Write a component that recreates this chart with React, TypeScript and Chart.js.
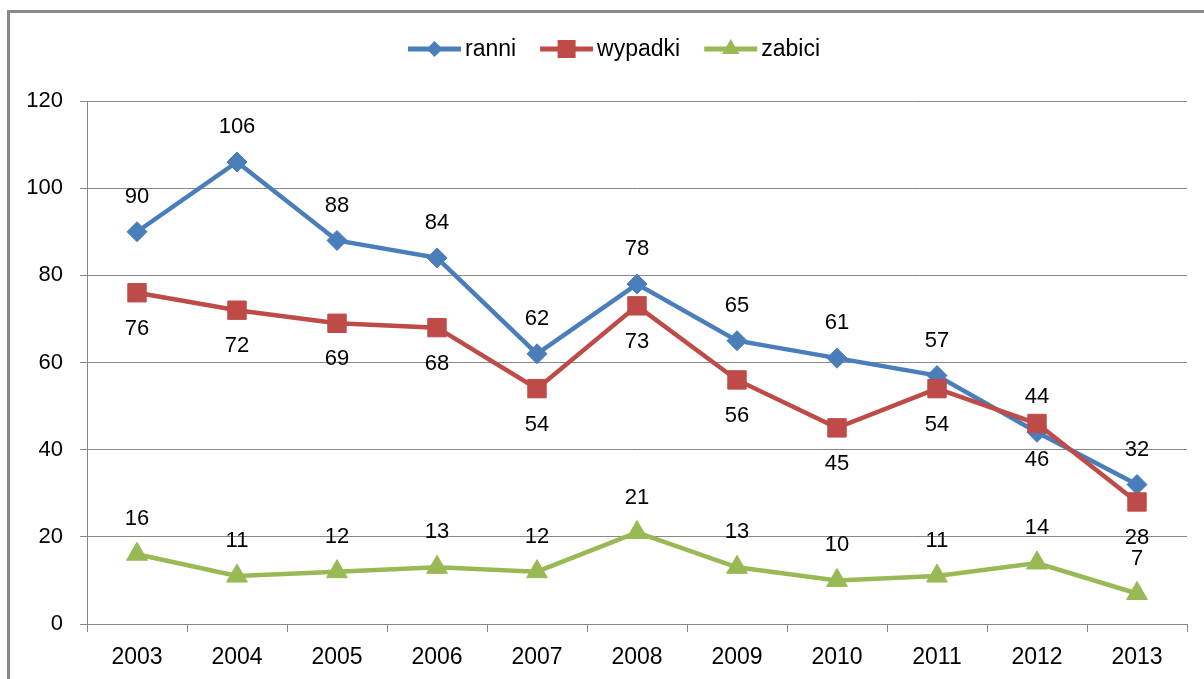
import React, { useEffect, useRef } from "react";
import { Chart, registerables } from "chart.js";

Chart.register(...registerables);

const years = ["2003", "2004", "2005", "2006", "2007", "2008", "2009", "2010", "2011", "2012", "2013"];
const ranni = [90, 106, 88, 84, 62, 78, 65, 61, 57, 44, 32];
const wypadki = [76, 72, 69, 68, 54, 73, 56, 45, 54, 46, 28];
const zabici = [16, 11, 12, 13, 12, 21, 13, 10, 11, 14, 7];
const seriesNames = ["ranni", "wypadki", "zabici"];
const yTicks = { min: 0, max: 120, step: 20 };

const FONT = "'Liberation Sans', Arial, sans-serif";
const COLORS = ["#4A7EBB", "#BE4B48", "#98B954"];
const STYLES = ["rectRot", "rect", "triangle"];
const RADII = [10, 13, 12];
const LABEL_OFFSETS = [-35, 36, -35];

function drawMarker(ctx: CanvasRenderingContext2D, style: string, x: number, y: number) {
  ctx.beginPath();
  if (style === "rectRot") {
    const r = 8;
    ctx.moveTo(x - r, y);
    ctx.lineTo(x, y - r);
    ctx.lineTo(x + r, y);
    ctx.lineTo(x, y + r);
  } else if (style === "rect") {
    const h = 9;
    ctx.rect(x - h, y - h, 2 * h, 2 * h);
  } else {
    const r = 10;
    ctx.moveTo(x, y - r);
    ctx.lineTo(x + r * 0.866, y + r / 2);
    ctx.lineTo(x - r * 0.866, y + r / 2);
  }
  ctx.closePath();
  ctx.fill();
}

const framePlugin = {
  id: "frame",
  beforeDraw(chart: any) {
    const ctx = chart.ctx;
    ctx.save();
    ctx.fillStyle = "#fff";
    ctx.fillRect(0, 0, chart.width, chart.height);
    ctx.fillStyle = "#8a8a8a";
    ctx.fillRect(7, 10, chart.width, 3);
    ctx.fillRect(7, 10, 3, chart.height);
    ctx.restore();
  },
};

const labelsPlugin = {
  id: "pointLabels",
  afterDatasetsDraw(chart: any) {
    const ctx = chart.ctx;
    ctx.save();
    ctx.font = `22px ${FONT}`;
    ctx.fillStyle = "#000";
    ctx.textAlign = "center";
    ctx.textBaseline = "middle";
    chart.data.datasets.forEach((ds: any, di: number) => {
      const meta = chart.getDatasetMeta(di);
      meta.data.forEach((pt: any, i: number) => {
        ctx.fillText(String(ds.data[i]), pt.x, pt.y + LABEL_OFFSETS[di]);
      });
    });
    ctx.restore();
  },
};

const legendPlugin = {
  id: "customLegend",
  afterDraw(chart: any) {
    const ctx = chart.ctx;
    ctx.save();
    ctx.font = `23px ${FONT}`;
    const sw = 53;
    const gapText = 4;
    const gapItem = 24;
    const widths = seriesNames.map((n) => ctx.measureText(n).width);
    const total = widths.reduce((a, w) => a + sw + gapText + w, 0) + gapItem * (seriesNames.length - 1);
    let x = 614 - total / 2;
    const y = 49;
    seriesNames.forEach((n, i) => {
      ctx.strokeStyle = COLORS[i];
      ctx.lineWidth = 5;
      ctx.beginPath();
      ctx.moveTo(x, y);
      ctx.lineTo(x + sw, y);
      ctx.stroke();
      ctx.fillStyle = COLORS[i];
      drawMarker(ctx, STYLES[i], x + sw / 2, y);
      ctx.fillStyle = "#000";
      ctx.textAlign = "left";
      ctx.textBaseline = "middle";
      ctx.fillText(n, x + sw + gapText, y + 1);
      x += sw + gapText + widths[i] + gapItem;
    });
    ctx.restore();
  },
};

export default function App() {
  const ref = useRef<HTMLCanvasElement>(null);
  useEffect(() => {
    document.body.style.margin = "0";
    const datasets = [ranni, wypadki, zabici].map((d, i) => ({
      label: seriesNames[i],
      data: d,
      order: 2 - i,
      borderColor: COLORS[i],
      backgroundColor: COLORS[i],
      borderWidth: 4.5,
      pointStyle: STYLES[i],
      pointRadius: RADII[i],
      pointBorderWidth: 1,
      pointBackgroundColor: COLORS[i],
      pointBorderColor: COLORS[i],
      tension: 0,
    }));
    const chart = new Chart(ref.current!, {
      type: "line",
      data: { labels: years, datasets },
      options: {
        animation: false,
        responsive: false,
        maintainAspectRatio: false,
        layout: { padding: { top: 101, right: 17, left: 0, bottom: 0 } },
        plugins: { legend: { display: false }, tooltip: { enabled: false } },
        scales: {
          x: {
            offset: true,
            grid: { offset: true, drawOnChartArea: false, color: "#888", tickLength: 8, tickWidth: 1 },
            border: { color: "#888", width: 1 },
            ticks: { color: "#000", font: { family: FONT, size: 23 }, padding: 12, maxRotation: 0 },
            afterFit: (s: any) => { s.height = 55; },
          },
          y: {
            min: yTicks.min,
            max: yTicks.max,
            ticks: { stepSize: yTicks.step, color: "#000", font: { family: FONT, size: 22 }, padding: 17 },
            grid: { color: "#888", tickLength: 7, lineWidth: 1 },
            border: { color: "#888", width: 1 },
            afterFit: (s: any) => { s.width = 87; },
          },
        },
      },
      plugins: [framePlugin, labelsPlugin, legendPlugin],
    });
    return () => chart.destroy();
  }, []);
  return (
    <div style={{ position: "absolute", left: 0, top: 0, width: 1204, height: 679 }}>
      <canvas ref={ref} width={1204} height={679} style={{ width: 1204, height: 679, display: "block" }} />
    </div>
  );
}
